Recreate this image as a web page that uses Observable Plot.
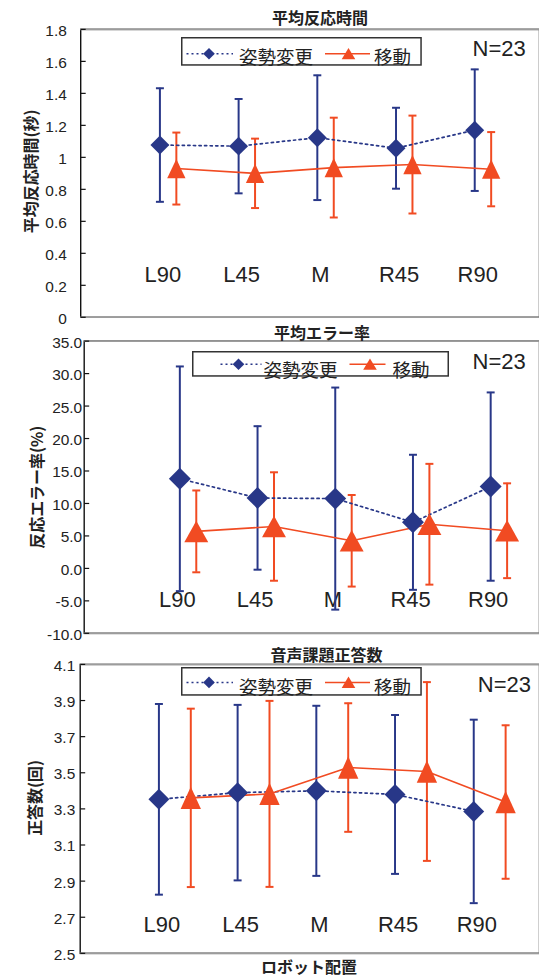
<!DOCTYPE html>
<html><head><meta charset="utf-8">
<script src="https://cdn.jsdelivr.net/npm/d3@7"></script>
<script src="https://cdn.jsdelivr.net/npm/@observablehq/plot@0.6"></script>
<style>
html,body{margin:0;padding:0;background:#fff;overflow:hidden;}
#root{position:relative;width:539px;height:977px;overflow:hidden;font-family:"Liberation Sans",Arial,"Noto Sans CJK JP",sans-serif;color:#222;}
.abs{position:absolute;white-space:nowrap;line-height:1;}
.title{font-family:"Noto Sans CJK JP",sans-serif;font-weight:bold;font-size:16px;transform:translate(-50%,-50%);}
.nlab{font-family:"Liberation Sans",Arial,sans-serif;font-size:22px;transform:translateY(-50%);}
svg.legend{position:absolute;overflow:visible;}
</style></head><body><div id="root"></div>
<script>
// ---------- data ----------
const categories = ["L90", "L45", "M", "R45", "R90"];
const seriesNames = ["姿勢変更", "移動"];
const titles = ["平均反応時間", "平均エラー率", "音声課題正答数"];
const yLabels = ["平均反応時間(秒)", "反応エラー率(%)", "正答数(回)"];
const xLabel = "ロボット配置";
const nLabel = "N=23";

// panel 1: mean reaction time (s)
const rtPosture    = [1.077, 1.070, 1.123, 1.057, 1.170];
const rtPostureErr = [0.355, 0.295, 0.390, 0.253, 0.380];
const rtMove       = [0.930, 0.900, 0.936, 0.955, 0.926];
const rtMoveErr    = [0.225, 0.217, 0.312, 0.306, 0.232];
const rtTicks      = [0, 0.2, 0.4, 0.6, 0.8, 1, 1.2, 1.4, 1.6, 1.8];

// panel 2: mean error rate (%)
const errPosture    = [13.8, 10.85, 10.75, 7.1, 12.6];
const errPostureErr = [17.3, 11.05, 17.1, 10.4, 14.5];
const errMove       = [5.7, 6.45, 4.25, 6.8, 5.8];
const errMoveErr    = [6.3, 8.35, 7.05, 9.3, 7.3];
const errTicks      = [-10, -5, 0, 5, 10, 15, 20, 25, 30, 35];

// panel 3: correct answers in voice task
const ansPosture    = [3.353, 3.390, 3.400, 3.380, 3.286];
const ansPostureErr = [0.528, 0.486, 0.471, 0.440, 0.508];
const ansMove       = [3.361, 3.383, 3.529, 3.507, 3.338];
const ansMoveErr    = [0.494, 0.515, 0.356, 0.495, 0.425];
const ansTicks      = [2.5, 2.7, 2.9, 3.1, 3.3, 3.5, 3.7, 3.9, 4.1];

// ---------- styling ----------
const BLUE = "#283788";
const RED = "#f14b22";
const CJK = "'Noto Sans CJK JP', sans-serif";
const LAT = "'Liberation Sans', Arial, sans-serif";
const root = document.getElementById("root");

const diamondSym = {draw(ctx, size) {const r = Math.sqrt(size / Math.PI); ctx.moveTo(0, -r); ctx.lineTo(r, 0); ctx.lineTo(0, r); ctx.lineTo(-r, 0); ctx.closePath();}};
const triangleSym = k => ({draw(ctx, size) {const r = Math.sqrt(size / Math.PI), h = r * k; ctx.moveTo(0, -h); ctx.lineTo(r, h); ctx.lineTo(-r, h); ctx.closePath();}});
const capSym = {draw(ctx, size) {const r = Math.sqrt(size / Math.PI); ctx.moveTo(-r, 0); ctx.lineTo(r, 0);}};
const tickSym = {draw(ctx, size) {const r = Math.sqrt(size / Math.PI); ctx.moveTo(0, 0); ctx.lineTo(r, 0);}};

function rows(means, errs) {
  return categories.map((c, i) => ({cat: c, mean: means[i], lo: means[i] - errs[i], hi: means[i] + errs[i]}));
}

function panel(o) {
  const P = rows(o.posture, o.postureErr);
  const M = rows(o.move, o.moveErr);
  const dom = [o.ticks[0], o.ticks[o.ticks.length - 1]];
  const chart = Plot.plot({
    width: 541, height: o.height,
    marginLeft: o.marginLeft, marginRight: 0, marginTop: o.marginTop, marginBottom: o.marginBottom,
    style: {background: "transparent", overflow: "visible", fontFamily: LAT},
    x: {type: "point", domain: categories, range: o.range, padding: 0, axis: null},
    y: {domain: dom, axis: null},
    marks: [
      Plot.frame({stroke: "#111", strokeWidth: 1.4}),
      Plot.ruleY(dom, {stroke: "#9c9c9c", strokeWidth: 1.6}),
      Plot.dot(o.ticks, {y: d => d, frameAnchor: "left", symbol: tickSym, r: 5, stroke: "#111", strokeWidth: 1.2}),
      Plot.axisY(o.ticks, {tickSize: 0, tickPadding: o.tickPadding, tickFormat: o.tickFormat, fontSize: 15.5, fill: "#222", label: null, dy: 1.5}),
      Plot.text(categories, {x: d => d, frameAnchor: "bottom", lineAnchor: "middle", textAnchor: "middle", dx: o.catDx, dy: o.catDy, fontSize: 22, fill: "#222", fontFamily: LAT}),
      Plot.text([o.yLabel], {frameAnchor: "left", textAnchor: "middle", lineAnchor: "middle", rotate: -90, dx: o.yLabelDx, dy: o.yLabelDy, fontSize: 16, fontWeight: "bold", fontFamily: CJK, fill: "#222"}),
      // posture change error bars
      Plot.ruleX(P, {x: "cat", y1: "lo", y2: "hi", stroke: BLUE, strokeWidth: 2}),
      Plot.dot(P, {x: "cat", y: "hi", symbol: capSym, r: 4, stroke: BLUE, strokeWidth: 2}),
      Plot.dot(P, {x: "cat", y: "lo", symbol: capSym, r: 4, stroke: BLUE, strokeWidth: 2}),
      // movement error bars
      Plot.ruleX(M, {x: "cat", y1: "lo", y2: "hi", dx: o.moveDx, stroke: RED, strokeWidth: 2}),
      Plot.dot(M, {x: "cat", y: "hi", dx: o.moveDx, symbol: capSym, r: 4, stroke: RED, strokeWidth: 2}),
      Plot.dot(M, {x: "cat", y: "lo", dx: o.moveDx, symbol: capSym, r: 4, stroke: RED, strokeWidth: 2}),
      // lines
      Plot.line(P, {x: "cat", y: "mean", stroke: BLUE, strokeWidth: 1.7, strokeDasharray: "2.2,3.4"}),
      Plot.line(M, {x: "cat", y: "mean", dx: o.moveDx, stroke: RED, strokeWidth: 1.6}),
      // markers
      Plot.dot(P, {x: "cat", y: "mean", symbol: diamondSym, r: o.diamondR, fill: BLUE, stroke: "none"}),
      Plot.dot(M, {x: "cat", y: "mean", dx: o.moveDx, symbol: triangleSym(o.triK), r: o.triR, fill: RED, stroke: "none"})
    ]
  });
  chart.style.position = "absolute";
  chart.style.left = "0px";
  chart.style.top = o.top + "px";
  root.appendChild(chart);

  // title
  const t = document.createElement("div");
  t.className = "abs title";
  t.textContent = o.title;
  t.style.left = o.titleX + "px"; t.style.top = o.titleY + "px";
  root.appendChild(t);

  // N label
  const n = document.createElement("div");
  n.className = "abs nlab";
  n.textContent = nLabel;
  n.style.left = o.nX + "px"; n.style.top = o.nY + "px";
  root.appendChild(n);

  // legend
  const L = o.legend;
  const svg = d3.create("svg").attr("class", "legend")
    .attr("width", L.w).attr("height", L.h)
    .style("left", L.left + "px").style("top", L.top + "px");
  svg.append("rect").attr("x", 0.75).attr("y", 0.75).attr("width", L.w - 1.5).attr("height", L.h - 1.5)
    .attr("fill", "white").attr("stroke", "#333").attr("stroke-width", 1.5);
  svg.append("line").attr("x1", L.l1a).attr("x2", L.l1b).attr("y1", L.lineY).attr("y2", L.lineY)
    .attr("stroke", BLUE).attr("stroke-width", 1.5).attr("stroke-dasharray", "2,3");
  svg.append("path").attr("transform", `translate(${L.d1},${L.lineY})`)
    .attr("d", "M0,-5.8L5.8,0L0,5.8L-5.8,0Z").attr("fill", BLUE);
  svg.append("text").attr("x", L.t1).attr("y", L.textY).attr("dominant-baseline", "central")
    .attr("font-family", CJK).attr("font-size", 18.5).attr("fill", "#222").text(seriesNames[0]);
  svg.append("line").attr("x1", L.l2a).attr("x2", L.l2b).attr("y1", L.lineY).attr("y2", L.lineY)
    .attr("stroke", RED).attr("stroke-width", 1.5);
  svg.append("path").attr("transform", `translate(${L.d2},${L.lineY})`)
    .attr("d", "M0,-5.8L6.8,5.5L-6.8,5.5Z").attr("fill", RED);
  svg.append("text").attr("x", L.t2).attr("y", L.textY).attr("dominant-baseline", "central")
    .attr("font-family", CJK).attr("font-size", 18.5).attr("fill", "#222").text(seriesNames[1]);
  root.appendChild(svg.node());
}

const fmt1 = d => d.toFixed(1);

panel({
  top: 0, height: 330, marginTop: 29, marginBottom: 12, marginLeft: 80.5,
  range: [159.2, 476], moveDx: 16.5,
  ticks: rtTicks, tickFormat: d => String(d), tickPadding: 14,
  posture: rtPosture, postureErr: rtPostureErr, move: rtMove, moveErr: rtMoveErr,
  yLabel: yLabels[0], yLabelDx: -49, yLabelDy: -2,
  catDx: 3, catDy: -42,
  diamondR: 9.5, triR: 9.2, triK: 1.05,
  title: titles[0], titleX: 320, titleY: 16.5,
  nX: 472.5, nY: 48.5,
  legend: {left: 181.2, top: 37.3, w: 240.8, h: 28.7, l1a: 5.5, l1b: 52, d1: 28, t1: 58, l2a: 144, l2b: 189, d2: 167.5, t2: 193, lineY: 16.7, textY: 18.5}
});

panel({
  top: 322, height: 322, marginTop: 18.7, marginBottom: 10, marginLeft: 84,
  range: [178, 493.3], moveDx: 16.5,
  ticks: errTicks, tickFormat: fmt1, tickPadding: 2,
  posture: errPosture, postureErr: errPostureErr, move: errMove, moveErr: errMoveErr,
  yLabel: yLabels[1], yLabelDx: -46, yLabelDy: 0,
  catDx: -2.5, catDy: -33,
  diamondR: 11, triR: 12, triK: 0.9,
  title: titles[1], titleX: 322, titleY: 331.5,
  nX: 472.5, nY: 362,
  legend: {left: 191.5, top: 351, w: 257, h: 25.7, l1a: 28.5, l1b: 69.5, d1: 46.5, t1: 71.5, l2a: 157.5, l2b: 193.5, d2: 178, t2: 200.5, lineY: 13.3, textY: 18}
});

panel({
  top: 644, height: 333, marginTop: 20, marginBottom: 23, marginLeft: 80,
  range: [158.8, 476], moveDx: 32,
  ticks: ansTicks, tickFormat: fmt1, tickPadding: 5,
  posture: ansPosture, postureErr: ansPostureErr, move: ansMove, moveErr: ansMoveErr,
  yLabel: yLabels[2], yLabelDx: -44, yLabelDy: -11,
  catDx: 3, catDy: -28,
  diamondR: 10.5, triR: 10.2, triK: 1.1,
  title: titles[2], titleX: 326.5, titleY: 654,
  nX: 477.8, nY: 685.3,
  legend: {left: 181.2, top: 667.3, w: 240.8, h: 28.7, l1a: 5.5, l1b: 52, d1: 28, t1: 58, l2a: 144, l2b: 189, d2: 167.5, t2: 193, lineY: 15.4, textY: 19}
});

const xl = document.createElement("div");
xl.className = "abs title";
xl.textContent = xLabel;
xl.style.left = "309px"; xl.style.top = "966px";
root.appendChild(xl);
</script>
</body></html>
